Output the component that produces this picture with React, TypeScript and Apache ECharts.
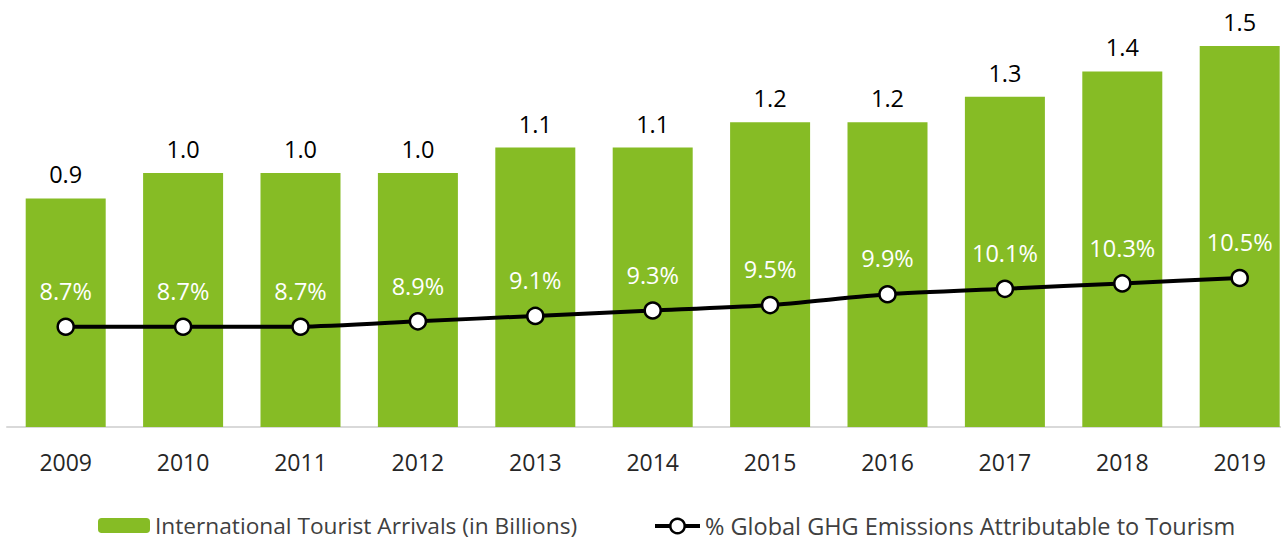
import React, { useEffect, useRef } from "react";
import * as echarts from "echarts";

const years = ["2009", "2010", "2011", "2012", "2013", "2014", "2015", "2016", "2017", "2018", "2019"];
const arrivals = [0.9, 1.0, 1.0, 1.0, 1.1, 1.1, 1.2, 1.2, 1.3, 1.4, 1.5];
const ghgShare = [8.7, 8.7, 8.7, 8.9, 9.1, 9.3, 9.5, 9.9, 10.1, 10.3, 10.5];

const barName = "International Tourist Arrivals (in Billions)";
const lineName = "% Global GHG Emissions Attributable to Tourism";

const FONT = "'Open Sans', 'Noto Sans', sans-serif";

export default function App() {
  const ref = useRef<HTMLDivElement>(null);
  useEffect(() => {
    if (!ref.current) return;
    const chart = echarts.init(ref.current, null, { renderer: "svg" });
    chart.setOption({
      animation: false,
      textStyle: { fontFamily: FONT },
      grid: { left: 7, right: 1.6, top: 20.6, bottom: 115, containLabel: false },
      legend: [
        {
          data: [barName],
          left: 93,
          top: 509,
          itemWidth: 52,
          itemHeight: 15,
          textStyle: { fontSize: 22.7, color: "#404040", fontFamily: FONT },
        },
        {
          data: [lineName],
          left: 648,
          top: 509,
          itemWidth: 45,
          itemHeight: 18,
          lineStyle: { width: 4, color: "#000000" },
          itemStyle: { color: "#ffffff", borderColor: "#000000", borderWidth: 2.5 },
          textStyle: { fontSize: 23.5, color: "#404040", fontFamily: FONT },
        },
      ],
      xAxis: {
        type: "category",
        data: years,
        axisLine: { lineStyle: { color: "#d9d9d9", width: 2 } },
        axisTick: { show: false },
        axisLabel: { fontSize: 23, color: "#262626", margin: 23, fontFamily: FONT },
      },
      yAxis: [
        { type: "value", min: 0, max: 1.6, show: false, splitLine: { show: false } },
        { type: "value", min: 5, max: 20, show: false, splitLine: { show: false } },
      ],
      series: [
        {
          name: barName,
          type: "bar",
          data: arrivals,
          barWidth: 80,
          itemStyle: { color: "#86BC25" },
          label: {
            show: true,
            position: "top",
            distance: 12,
            fontSize: 23.5,
            color: "#000000",
            fontFamily: FONT,
            formatter: (p: any) => Number(p.value).toFixed(1),
          },
        },
        {
          name: lineName,
          type: "line",
          yAxisIndex: 1,
          data: ghgShare,
          smooth: 0.2,
          symbol: "circle",
          symbolSize: 16,
          lineStyle: { color: "#000000", width: 4 },
          itemStyle: { color: "#ffffff", borderColor: "#000000", borderWidth: 2.5 },
          label: {
            show: true,
            position: "top",
            distance: 14.5,
            fontSize: 23.5,
            color: "#ffffff",
            fontFamily: FONT,
            formatter: (p: any) => Number(p.value).toFixed(1) + "%",
          },
        },
      ],
    });
    return () => chart.dispose();
  }, []);
  return (
    <div style={{ position: "fixed", left: 0, top: 0, width: 1281, height: 542, overflow: "hidden", background: "#ffffff" }}>
      <div ref={ref} style={{ width: 1300, height: 542 }} />
    </div>
  );
}
